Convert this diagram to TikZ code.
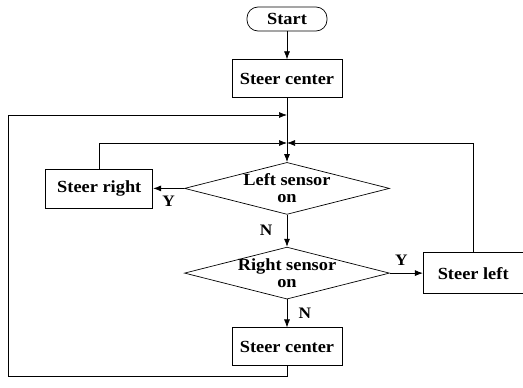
\documentclass[tikz,border=0pt]{standalone}
\usepackage{fontspec}
\setmainfont[FakeStretch=1.08]{Liberation Serif}
\usepackage{tikz}
\usetikzlibrary{positioning}
\usetikzlibrary{shapes.geometric}
\usetikzlibrary{arrows.meta}

\begin{document}
\begin{tikzpicture}[
    x = 1pt,
    y = -1pt,
    font = \fontsize{17}{17}\selectfont\bfseries,
    >={Latex[length=8pt,width=6pt]},
    line width=0.7pt,
    procf/.style = {
      rectangle,
      draw,
      minimum width=110pt,
      minimum height=38pt,
      inner sep=0pt
    },
    termf/.style = {
      rectangle,
      draw,
      rounded corners=11pt,
      minimum width=80pt,
      minimum height=24pt,
      inner sep=0pt
    },
    decf/.style = {
      diamond,
      draw,
      minimum width=205pt,
      minimum height=52pt,
      inner sep=0pt
    },
    labelf/.style = {
      font=\fontsize{16}{16}\selectfont\bfseries
    }
  ]
    \useasboundingbox (0,0) rectangle (523,388);
    \node[termf] (start) at (287,19) {Start};
    \node[procf] (center1) [below=28pt of start] {Steer center};
    \node[decf, label={[align=center]center:{Left sensor\\on}}] (lsensor) [below=64pt of center1] {};
    \node[decf, label={[align=center]center:{Right sensor\\on}}] (rsensor) [below=32pt of lsensor] {};
    \node[procf] (center2) [below=28pt of rsensor] {Steer center};
    \node[procf, minimum width=107pt, minimum height=39pt] (sright) [left=31pt of lsensor] {Steer right};
    \node[procf, minimum width=100pt, minimum height=41pt] (sleft) [right=33pt of rsensor] {Steer left};
    \coordinate (j1) at (287,115);
    \coordinate (j2) at (287,143);
    \coordinate (outer) at (8,376);
    \draw[->] (start) -- (center1);
    \draw[->] (center1) -- (lsensor);
    \draw[->] (lsensor.west) -- (sright) node[labelf, midway, below=4pt] (yleft) {Y};
    \draw[->] (lsensor) -- (rsensor) node[labelf, midway, left=11pt] (nleft) {N};
    \draw[->] (rsensor.east) -- (sleft) node[labelf, pos=0.35, above=4pt] (yright) {Y};
    \draw[->] (rsensor) -- (center2) node[labelf, midway, right=8pt] (nright) {N};
    \draw[->] (sright.north) |- (j2);
    \draw[->] (sleft.north) |- (j2);
    \draw[->] (center2.south) |- (outer) |- (j1);
\end{tikzpicture}
\end{document}
